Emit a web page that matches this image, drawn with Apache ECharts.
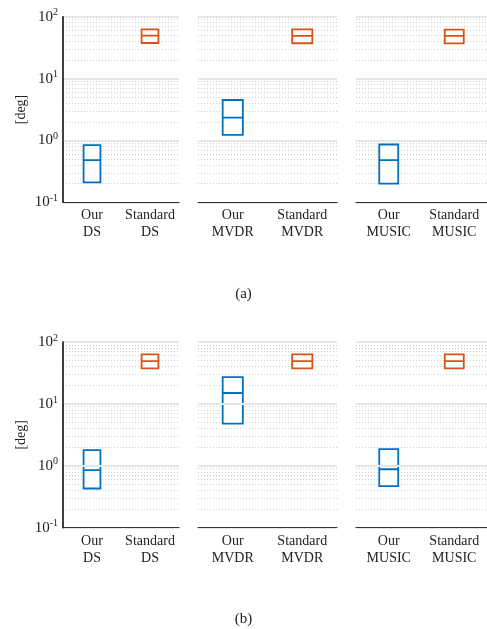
<!DOCTYPE html>
<html><head><meta charset="utf-8">
<script src="https://cdn.jsdelivr.net/npm/echarts@6/dist/echarts.min.js"></script>
<style>html,body{margin:0;padding:0;background:#fff}#c{width:487px;height:629px}</style>
</head><body><div id="c"></div>
<script>
// ---- data ----
const panelCats = [["Our\nDS","Standard\nDS"],["Our\nMVDR","Standard\nMVDR"],["Our\nMUSIC","Standard\nMUSIC"]];
// [Q1, median, Q3]
const oursA = [[0.21,0.48,0.84],[1.23,2.34,4.5],[0.20,0.48,0.86]];
const stdA  = [[37.6,49.3,62.5],[37.2,49,62.5],[37,49,62]];
const oursB = [[0.43,0.85,1.79],[4.8,15,27],[0.47,0.88,1.86]];
const stdB  = [[37.6,49,63],[37.6,49,63],[37.6,49,63]];
const yMin = 0.1, yMax = 100;
const minorTicks = [0.2,0.3,0.4,0.5,0.6,0.7,0.8,0.9,2,3,4,5,6,7,8,9,20,30,40,50,60,70,80,90];
const captions = ["(a)","(b)"];
const yName = "[deg]";

// ---- layout ----
const FONT = "Liberation Serif";
const BLUE = "#0072BD", ORANGE = "#D95319";
const panelsX = [{left:63,width:116},{left:198,width:139},{left:356,width:138}];
const rowsY = [{top:16.7,height:185.6},{top:342,height:185.7}];
const rowsData = [[oursA,stdA],[oursB,stdB]];

const grid=[], xAxis=[], yAxis=[], series=[];
rowsY.forEach((r,ri)=>{
  panelsX.forEach((p,pi)=>{
    const gi = grid.length;
    grid.push({left:p.left, width:p.width, top:r.top, height:r.height, containLabel:false});
    xAxis.push({type:'category', gridIndex:gi, data:panelCats[pi], z:10,
      axisLine:{show:true, lineStyle:{color:'#333', width:1.2}},
      axisTick:{show:false},
      axisLabel:{fontFamily:FONT, fontSize:14, color:'#222', lineHeight:17, margin:5, interval:0},
      splitLine:{show:false}});
    yAxis.push({type:'log', logBase:10, gridIndex:gi, min:yMin, max:yMax, z:10,
      name: pi===0 ? yName : '', nameLocation:'middle', nameGap:35,
      nameTextStyle:{fontFamily:FONT, fontSize:14, color:'#222'},
      axisLine:{show:pi===0, lineStyle:{color:'#000', width:1.5}},
      axisTick:{show:false},
      axisLabel:{show:pi===0, margin:5,
        formatter:v=>'{b|10}{s|'+Math.round(Math.log10(v))+'}',
        rich:{b:{fontFamily:FONT,fontSize:15,color:'#222'}, s:{fontFamily:FONT,fontSize:10,color:'#222',padding:[0,0,8,0]}}},
      splitLine:{show:true, lineStyle:{color:'#e6e6e6', width:1.8}},
      minorTick:{show:false}, minorSplitLine:{show:false}});
    series.push({type:'line', xAxisIndex:gi, yAxisIndex:gi, data:[], silent:true, z:1,
      markLine:{silent:true, symbol:['none','none'], animation:false, label:{show:false},
        lineStyle:{type:[1,2], color:'#cfcfcf', width:1},
        data: minorTicks.map(t=>({yAxis:t}))}});
    const ours = rowsData[ri][0][pi], std = rowsData[ri][1][pi];
    series.push({type:'boxplot', xAxisIndex:gi, yAxisIndex:gi, z:5, boxWidth:['29%','29%'],
      animation:false,
      data:[
        {value:[ours[0],ours[0],ours[1],ours[2],ours[2]], itemStyle:{color:'#fff', borderColor:BLUE, borderWidth:1.8}},
        {value:[std[0],std[0],std[1],std[2],std[2]], itemStyle:{color:'#fff', borderColor:ORANGE, borderWidth:1.8}}
      ]});
  });
});

const chart = echarts.init(document.getElementById('c'), null, {renderer:'canvas'});
chart.setOption({
  animation:false,
  title:[
    {text:captions[0], left:'center', top:282, textStyle:{fontFamily:FONT, fontSize:15, fontWeight:'normal', color:'#222'}},
    {text:captions[1], left:'center', top:607, textStyle:{fontFamily:FONT, fontSize:15, fontWeight:'normal', color:'#222'}}
  ],
  grid, xAxis, yAxis, series
});
</script></body></html>
